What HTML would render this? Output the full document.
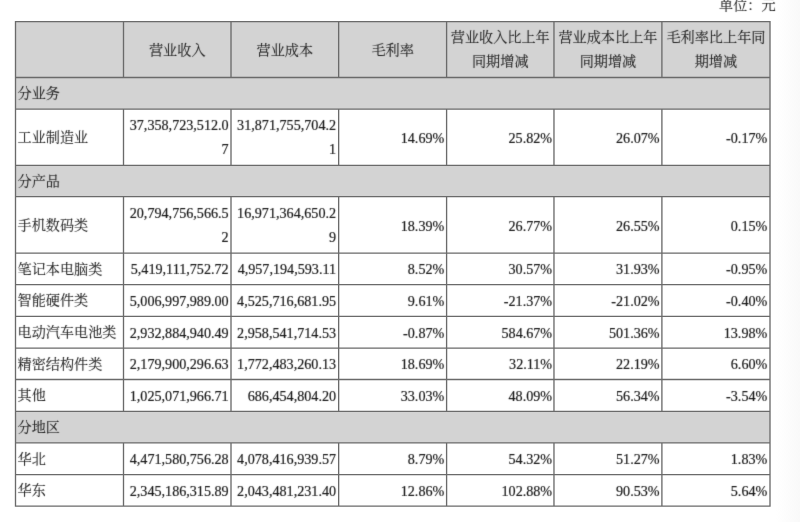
<!DOCTYPE html>
<html lang="zh-CN">
<head>
<meta charset="utf-8">
<title>营业收入构成</title>
<style>
html,body{margin:0;padding:0;background:#fff;}
body{width:800px;height:522px;position:relative;overflow:hidden;
 font-family:"Liberation Serif","Noto Serif CJK SC",serif;font-size:14.15px;line-height:24px;color:#1a1a1a;font-weight:400;}
#grid{position:absolute;left:0;top:0;}
#fx{position:absolute;left:0;top:0;width:0;height:0;}
#t{position:absolute;left:-20px;top:-20px;width:840px;height:562px;filter:url(#soft);}
#p{position:absolute;left:20px;top:20px;width:800px;height:522px;}
.c{position:absolute;white-space:nowrap;}
.l,.m,.unit{color:#222;-webkit-text-stroke:0.1px #222;}
.l{text-align:left;}
.r{text-align:right;-webkit-text-stroke:0.2px #1a1a1a;}
.m{text-align:center;}
.unit{position:absolute;left:719px;top:-7px;width:57px;white-space:nowrap;}
</style>
</head>
<body>
<svg id="grid" width="800" height="522" viewBox="0 0 800 522">
<defs><linearGradient id="edge" x1="0" y1="0" x2="1" y2="0"><stop offset="0" stop-color="#ffffff"/><stop offset="1" stop-color="#f9f9f9"/></linearGradient></defs>
<rect x="776" y="0" width="24" height="522" fill="url(#edge)"/>
<rect x="15.5" y="21.6" width="754.5" height="55.9" fill="#d3d3d3"/>
<rect x="15.5" y="77.5" width="754.5" height="31.6" fill="#d3d3d3"/>
<rect x="15.5" y="165.3" width="754.5" height="31.4" fill="#d3d3d3"/>
<rect x="15.5" y="411.3" width="754.5" height="31.5" fill="#d3d3d3"/>
<path d="M14.84 21.6H770.66M14.84 77.5H770.66M14.84 109.1H770.66M14.84 165.3H770.66M14.84 196.7H770.66M14.84 253.1H770.66M14.84 284.65H770.66M14.84 316.3H770.66M14.84 348.05H770.66M14.84 379.5H770.66M14.84 411.3H770.66M14.84 442.8H770.66M14.84 474.55H770.66M14.84 506.1H770.66M15.5 21.6V506.1M123.5 21.6V77.5M123.5 109.1V165.3M123.5 196.7V253.1M123.5 253.1V284.65M123.5 284.65V316.3M123.5 316.3V348.05M123.5 348.05V379.5M123.5 379.5V411.3M123.5 442.8V474.55M123.5 474.55V506.1M231 21.6V77.5M231 109.1V165.3M231 196.7V253.1M231 253.1V284.65M231 284.65V316.3M231 316.3V348.05M231 348.05V379.5M231 379.5V411.3M231 442.8V474.55M231 474.55V506.1M338.65 21.6V77.5M338.65 109.1V165.3M338.65 196.7V253.1M338.65 253.1V284.65M338.65 284.65V316.3M338.65 316.3V348.05M338.65 348.05V379.5M338.65 379.5V411.3M338.65 442.8V474.55M338.65 474.55V506.1M446.6 21.6V77.5M446.6 109.1V165.3M446.6 196.7V253.1M446.6 253.1V284.65M446.6 284.65V316.3M446.6 316.3V348.05M446.6 348.05V379.5M446.6 379.5V411.3M446.6 442.8V474.55M446.6 474.55V506.1M553.97 21.6V77.5M553.97 109.1V165.3M553.97 196.7V253.1M553.97 253.1V284.65M553.97 284.65V316.3M553.97 316.3V348.05M553.97 348.05V379.5M553.97 379.5V411.3M553.97 442.8V474.55M553.97 474.55V506.1M661.9 21.6V77.5M661.9 109.1V165.3M661.9 196.7V253.1M661.9 253.1V284.65M661.9 284.65V316.3M661.9 316.3V348.05M661.9 348.05V379.5M661.9 379.5V411.3M661.9 442.8V474.55M661.9 474.55V506.1M770 21.6V506.1" fill="none" stroke="#6a6a6a" stroke-width="1.33"/>
</svg>
<svg id="fx" width="0" height="0"><defs><filter id="soft" x="0" y="0" width="100%" height="100%" color-interpolation-filters="sRGB"><feConvolveMatrix order="3" kernelMatrix="0.0100 0.0800 0.0100 0.0800 0.6400 0.0800 0.0100 0.0800 0.0100" divisor="1" edgeMode="none" preserveAlpha="false"/></filter></defs></svg>
<div id="t"><div id="p">
<div class="unit">单位：元</div>
<div class="c m" style="left:123.5px;top:38px;width:107.5px">营业收入</div>
<div class="c m" style="left:231px;top:38px;width:107.65px">营业成本</div>
<div class="c m" style="left:338.65px;top:38px;width:107.95px">毛利率</div>
<div class="c m" style="left:446.6px;top:25px;width:107.37px">营业收入比上年<br>同期增减</div>
<div class="c m" style="left:553.97px;top:25px;width:107.93px">营业成本比上年<br>同期增减</div>
<div class="c m" style="left:661.9px;top:25px;width:108.1px">毛利率比上年同<br>期增减</div>
<div class="c l" style="left:17.5px;top:81px">分业务</div>
<div class="c l" style="left:17.5px;top:125px">工业制造业</div>
<div class="c r" style="left:123.5px;top:113px;width:105.2px">37,358,723,512.0<br>7</div>
<div class="c r" style="left:231px;top:113px;width:105.1px">31,871,755,704.2<br>1</div>
<div class="c r" style="left:338.65px;top:126px;width:105.7px">14.69%</div>
<div class="c r" style="left:446.6px;top:126px;width:105.57px">25.82%</div>
<div class="c r" style="left:553.97px;top:126px;width:105.68px">26.07%</div>
<div class="c r" style="left:661.9px;top:126px;width:105.45px">-0.17%</div>
<div class="c l" style="left:17.5px;top:169px">分产品</div>
<div class="c l" style="left:17.5px;top:213px">手机数码类</div>
<div class="c r" style="left:123.5px;top:201px;width:105.2px">20,794,756,566.5<br>2</div>
<div class="c r" style="left:231px;top:201px;width:105.1px">16,971,364,650.2<br>9</div>
<div class="c r" style="left:338.65px;top:214px;width:105.7px">18.39%</div>
<div class="c r" style="left:446.6px;top:214px;width:105.57px">26.77%</div>
<div class="c r" style="left:553.97px;top:214px;width:105.68px">26.55%</div>
<div class="c r" style="left:661.9px;top:214px;width:105.45px">0.15%</div>
<div class="c l" style="left:17.5px;top:257px">笔记本电脑类</div>
<div class="c r" style="left:123.5px;top:257px;width:105.2px">5,419,111,752.72</div>
<div class="c r" style="left:231px;top:257px;width:105.1px">4,957,194,593.11</div>
<div class="c r" style="left:338.65px;top:257px;width:105.7px">8.52%</div>
<div class="c r" style="left:446.6px;top:257px;width:105.57px">30.57%</div>
<div class="c r" style="left:553.97px;top:257px;width:105.68px">31.93%</div>
<div class="c r" style="left:661.9px;top:257px;width:105.45px">-0.95%</div>
<div class="c l" style="left:17.5px;top:288px">智能硬件类</div>
<div class="c r" style="left:123.5px;top:289px;width:105.2px">5,006,997,989.00</div>
<div class="c r" style="left:231px;top:289px;width:105.1px">4,525,716,681.95</div>
<div class="c r" style="left:338.65px;top:289px;width:105.7px">9.61%</div>
<div class="c r" style="left:446.6px;top:289px;width:105.57px">-21.37%</div>
<div class="c r" style="left:553.97px;top:289px;width:105.68px">-21.02%</div>
<div class="c r" style="left:661.9px;top:289px;width:105.45px">-0.40%</div>
<div class="c l" style="left:17.5px;top:320px">电动汽车电池类</div>
<div class="c r" style="left:123.5px;top:321px;width:105.2px">2,932,884,940.49</div>
<div class="c r" style="left:231px;top:321px;width:105.1px">2,958,541,714.53</div>
<div class="c r" style="left:338.65px;top:321px;width:105.7px">-0.87%</div>
<div class="c r" style="left:446.6px;top:321px;width:105.57px">584.67%</div>
<div class="c r" style="left:553.97px;top:321px;width:105.68px">501.36%</div>
<div class="c r" style="left:661.9px;top:321px;width:105.45px">13.98%</div>
<div class="c l" style="left:17.5px;top:352px">精密结构件类</div>
<div class="c r" style="left:123.5px;top:352px;width:105.2px">2,179,900,296.63</div>
<div class="c r" style="left:231px;top:352px;width:105.1px">1,772,483,260.13</div>
<div class="c r" style="left:338.65px;top:352px;width:105.7px">18.69%</div>
<div class="c r" style="left:446.6px;top:352px;width:105.57px">32.11%</div>
<div class="c r" style="left:553.97px;top:352px;width:105.68px">22.19%</div>
<div class="c r" style="left:661.9px;top:352px;width:105.45px">6.60%</div>
<div class="c l" style="left:17.5px;top:383px">其他</div>
<div class="c r" style="left:123.5px;top:384px;width:105.2px">1,025,071,966.71</div>
<div class="c r" style="left:231px;top:384px;width:105.1px">686,454,804.20</div>
<div class="c r" style="left:338.65px;top:384px;width:105.7px">33.03%</div>
<div class="c r" style="left:446.6px;top:384px;width:105.57px">48.09%</div>
<div class="c r" style="left:553.97px;top:384px;width:105.68px">56.34%</div>
<div class="c r" style="left:661.9px;top:384px;width:105.45px">-3.54%</div>
<div class="c l" style="left:17.5px;top:415px">分地区</div>
<div class="c l" style="left:17.5px;top:447px">华北</div>
<div class="c r" style="left:123.5px;top:447px;width:105.2px">4,471,580,756.28</div>
<div class="c r" style="left:231px;top:447px;width:105.1px">4,078,416,939.57</div>
<div class="c r" style="left:338.65px;top:447px;width:105.7px">8.79%</div>
<div class="c r" style="left:446.6px;top:447px;width:105.57px">54.32%</div>
<div class="c r" style="left:553.97px;top:447px;width:105.68px">51.27%</div>
<div class="c r" style="left:661.9px;top:447px;width:105.45px">1.83%</div>
<div class="c l" style="left:17.5px;top:478px">华东</div>
<div class="c r" style="left:123.5px;top:479px;width:105.2px">2,345,186,315.89</div>
<div class="c r" style="left:231px;top:479px;width:105.1px">2,043,481,231.40</div>
<div class="c r" style="left:338.65px;top:479px;width:105.7px">12.86%</div>
<div class="c r" style="left:446.6px;top:479px;width:105.57px">102.88%</div>
<div class="c r" style="left:553.97px;top:479px;width:105.68px">90.53%</div>
<div class="c r" style="left:661.9px;top:479px;width:105.45px">5.64%</div>
</div></div>
</body>
</html>
